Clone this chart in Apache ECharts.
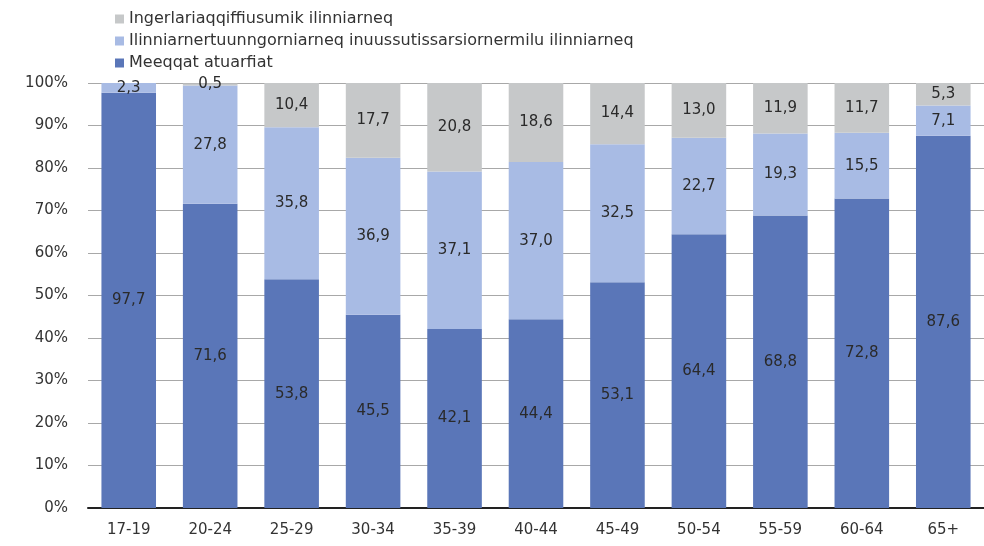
<!DOCTYPE html>
<html>
<head>
<meta charset="utf-8">
<script src="https://cdn.jsdelivr.net/npm/echarts@6/dist/echarts.min.js"></script>
<style>
    html, body { margin: 0; padding: 0; background: #fff; }
    #chart { width: 984px; height: 546px; }
</style>
</head>
<body>
<div id="chart"></div>
<script>
    // aldersgrupper
    var categories = ['17-19', '20-24', '25-29', '30-34', '35-39', '40-44', '45-49', '50-54', '55-59', '60-64', '65+'];
    var yTicks = ['0%', '10%', '20%', '30%', '40%', '50%', '60%', '70%', '80%', '90%', '100%'];

    var nameMeeqqat = 'Meeqqat atuarfiat';
    var nameIlinniarnertuu = 'Ilinniarnertuunngorniarneq inuussutissarsiornermilu ilinniarneq';
    var nameIngerlariaq = 'Ingerlariaqqiffiusumik ilinniarneq';

    var meeqqat = [97.7, 71.6, 53.8, 45.5, 42.1, 44.4, 53.1, 64.4, 68.8, 72.8, 87.6];
    var ilinniarnertuu = [2.3, 27.8, 35.8, 36.9, 37.1, 37.0, 32.5, 22.7, 19.3, 15.5, 7.1];
    var ingerlariaq = [0, 0.5, 10.4, 17.7, 20.8, 18.6, 14.4, 13.0, 11.9, 11.7, 5.3];

    var font = 'DejaVu Sans';

    //数值标签，逗号做小数点
    function lbl() {
        return {
            show: true,
            position: 'inside',
            color: '#2a2a2a',
            fontFamily: font,
            fontSize: 15,
            formatter: function (p) {
                if (!p.value) return '';
                return p.value.toFixed(1).replace('.', ',');
            }
        };
    }

    var myChart = echarts.init(document.getElementById('chart'));
    var option = {
        animation: false,
        backgroundColor: '#fff',
        legend: {
            orient: 'vertical',
            left: 110,
            top: 6,
            itemWidth: 9,
            itemHeight: 9,
            itemGap: 6,
            icon: 'rect',
            data: [nameIngerlariaq, nameIlinniarnertuu, nameMeeqqat],
            textStyle: { fontFamily: font, fontSize: 16, color: '#333' }
        },
        grid: { left: 88, width: 902, top: 83, bottom: 38 },
        xAxis: {
            type: 'category',
            data: categories,
            axisLine: { lineStyle: { color: '#222', width: 2 } },
            axisTick: { show: false },
            axisLabel: { fontFamily: font, fontSize: 15, color: '#333', margin: 15 }
        },
        yAxis: {
            type: 'value',
            min: 0,
            max: 100,
            interval: 10,
            axisLine: { show: false },
            axisTick: { show: false },
            splitLine: { lineStyle: { color: '#a8a8a8', width: 1 } },
            axisLabel: {
                fontFamily: font, fontSize: 15, color: '#333', margin: 20,
                formatter: function (v) { return yTicks[Math.round(v / 10)]; }
            }
        },
        series: [
            {
                name: nameMeeqqat, type: 'bar', stack: 'all', barWidth: '67%',
                itemStyle: { color: '#5a76b8' }, label: lbl(), data: meeqqat
            },
            {
                name: nameIlinniarnertuu, type: 'bar', stack: 'all',
                itemStyle: { color: '#a8bbe4' }, label: lbl(), data: ilinniarnertuu
            },
            {
                name: nameIngerlariaq, type: 'bar', stack: 'all',
                itemStyle: { color: '#c6c8c9' }, label: lbl(), data: ingerlariaq
            }
        ]
    };
    myChart.setOption(option);
</script>
</body>
</html>
